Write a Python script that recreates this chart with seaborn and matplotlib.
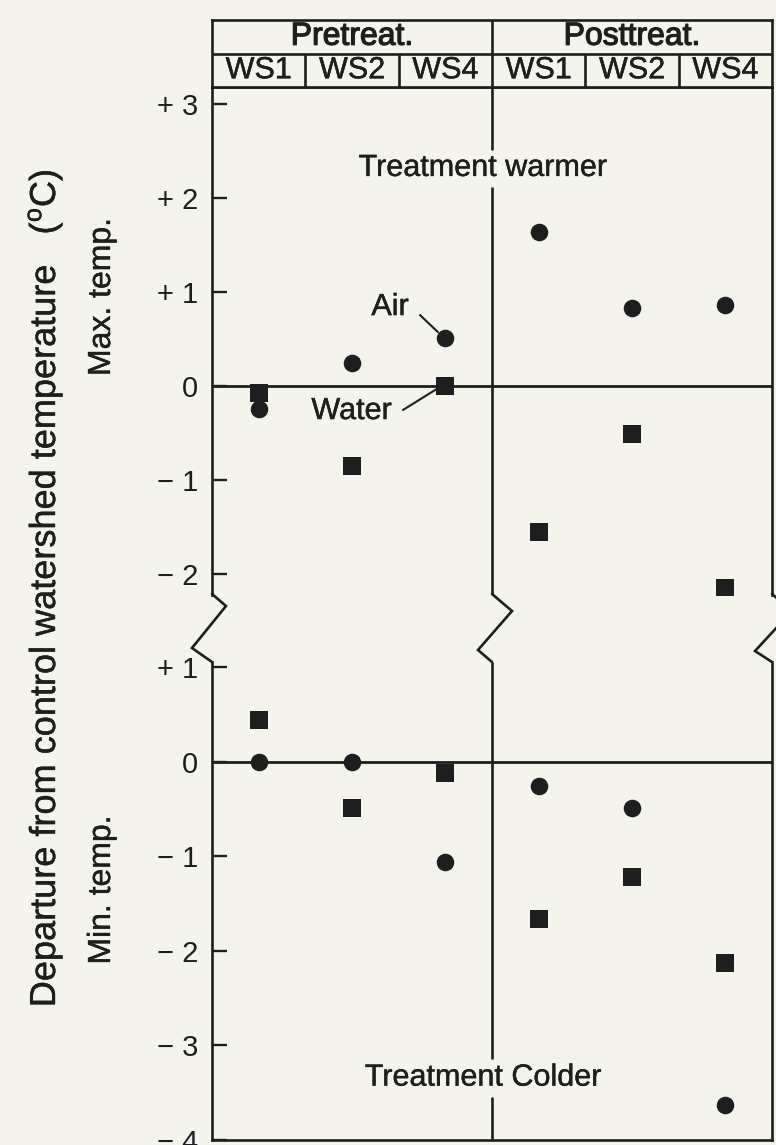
import pandas as pd
import matplotlib
matplotlib.use("Agg")
import matplotlib.pyplot as plt
import matplotlib.patheffects as pe
import seaborn as sns

# columns of the chart: period x watershed
periods = ["Pretreat.", "Posttreat."]
sites = ["WS1", "WS2", "WS4"]
columns = [f"{p} {s}" for p in periods for s in sites]

# departure from control watershed (deg C)
max_air = [-0.24, 0.25, 0.51, 1.64, 0.83, 0.86]
max_water = [-0.07, -0.85, 0.0, -1.55, -0.51, -2.15]
min_air = [0.0, 0.0, -1.06, -0.25, -0.49, -3.63]
min_water = [0.44, -0.49, -0.12, -1.66, -1.22, -2.13]

upper_ticks = [3, 2, 1, 0, -1, -2]
upper_labels = ["+ 3", "+ 2", "+ 1", "0", "\u2212 1", "\u2212 2"]
lower_ticks = [1, 0, -1, -2, -3, -4]
lower_labels = ["+ 1", "0", "\u2212 1", "\u2212 2", "\u2212 3", "\u2212 4"]

ink = "#1e1e1e"
paper = "#f4f4ec"
W, H = 776, 1145
heavy = [pe.withStroke(linewidth=0.3, foreground=ink)]

sns.set_style("white")
plt.rcParams["font.family"] = ["Liberation Sans", "DejaVu Sans"]
plt.rcParams["mathtext.fontset"] = "custom"
plt.rcParams["mathtext.rm"] = "Liberation Sans"
plt.rcParams["text.color"] = ink


def box(x0, y0, x1, y1):
    # pixel box -> figure fraction rect
    return [x0 / W, 1 - y1 / H, (x1 - x0) / W, (y1 - y0) / H]


def draw_panel(ax, air, water):
    df = pd.DataFrame({"column": columns, "Air": air, "Water": water})
    df = df.melt(id_vars="column", var_name="medium", value_name="dep")
    sns.scatterplot(data=df[df["medium"] == "Air"], x="column", y="dep",
                    marker="o", s=160, color=ink, linewidth=0, ax=ax,
                    legend=False, zorder=4)
    sns.scatterplot(data=df[df["medium"] == "Water"], x="column", y="dep",
                    marker="s", s=150, color=ink, linewidth=0, ax=ax,
                    legend=False, zorder=4)
    ax.axhline(0, color=ink, lw=2.0, zorder=2)
    ax.set_xlim(-0.5, 5.5)
    ax.set_xticks([])
    ax.set_xlabel("")
    ax.set_ylabel("")
    ax.set_facecolor(paper)
    for sp in ax.spines.values():
        sp.set_color(ink)
        sp.set_linewidth(1.9)
    ax.tick_params(axis="y", direction="in", length=11, width=1.7,
                   labelsize=21, pad=10, colors=ink, left=True)


fig = plt.figure(figsize=(W / 100, H / 100), dpi=100, facecolor=paper)

ax_top = fig.add_axes(box(212, 87, 772, 595))
ax_bot = fig.add_axes(box(212, 662, 772, 1140))
ax_head = fig.add_axes(box(212, 20, 772, 87))

draw_panel(ax_top, max_air, max_water)
draw_panel(ax_bot, min_air, min_water)

ax_top.set_ylim(-2.223, 3.181)
ax_top.set_yticks(upper_ticks)
ax_top.set_yticklabels(upper_labels)
ax_top.spines["bottom"].set_visible(False)

ax_bot.set_ylim(-4.0, 1.058)
ax_bot.set_yticks(lower_ticks)
ax_bot.set_yticklabels(lower_labels)
ax_bot.spines["top"].set_visible(False)

# divider between pre- and post-treatment, broken for the labels
ax_top.vlines(2.5, 2.51, 3.181, color=ink, lw=1.9)
ax_top.vlines(2.5, -2.223, 2.12, color=ink, lw=1.9)
ax_bot.vlines(2.5, -3.14, 1.058, color=ink, lw=1.9)
ax_bot.vlines(2.5, -4.0, -3.545, color=ink, lw=1.9)

ax_top.text(2.40, 2.32, "Treatment warmer", ha="center", va="center",
            fontsize=22, path_effects=heavy)
ax_bot.text(2.40, -3.34, "Treatment Colder", ha="center", va="center",
            fontsize=22, path_effects=heavy)

# Air / Water callouts
ax_top.text(1.407, 0.84, "Air", ha="center", va="center", fontsize=22,
            path_effects=heavy)
ax_top.plot([1.729, 1.92], [0.755, 0.574], color=ink, lw=1.5)
ax_top.text(0.995, -0.266, "Water", ha="center", va="center", fontsize=22,
            path_effects=heavy)
ax_top.plot([1.546, 1.91], [-0.255, -0.03], color=ink, lw=1.5)

# header table
ax_head.set_xlim(-0.5, 5.5)
ax_head.set_ylim(0, 2)
ax_head.set_xticks([])
ax_head.set_yticks([])
ax_head.set_facecolor(paper)
for sp in ax_head.spines.values():
    sp.set_color(ink)
    sp.set_linewidth(1.9)
ax_head.axhline(1.0, color=ink, lw=1.9)
ax_head.vlines(2.5, 0, 2, color=ink, lw=1.9)
ax_head.vlines([0.5, 1.5, 3.5, 4.5], 0, 1, color=ink, lw=1.9)
for i, p in enumerate(periods):
    ax_head.text(1 + 3 * i, 1.5, p, ha="center", va="center", fontsize=23,
                 path_effects=[pe.withStroke(linewidth=0.9, foreground=ink)])
for i, c in enumerate(columns):
    ax_head.text(i, 0.5, c.split()[-1], ha="center", va="center",
                 fontsize=22, path_effects=heavy)

# axis-break zigzags (figure pixels)
zigzags = [
    [(212, 594), (226, 606), (192, 648), (212, 662)],
    [(492, 594), (512, 611), (478, 650), (492, 662)],
    [(772, 594), (792, 611), (755, 651), (772, 662)],
]
for zz in zigzags:
    xs = [p[0] / W for p in zz]
    ys = [1 - p[1] / H for p in zz]
    fig.add_artist(plt.Line2D(xs, ys, transform=fig.transFigure,
                              color=ink, lw=1.9, solid_joinstyle="miter"))

# axis labels
fig.text(45 / W, 1 - 588 / H,
         "Departure from control watershed temperature   ($^{\\rm o}$C)",
         rotation=90, ha="center", va="center", fontsize=26,
         path_effects=heavy)
fig.text(102 / W, 1 - 297 / H, "Max. temp.", rotation=90,
         ha="center", va="center", fontsize=23, path_effects=heavy)
fig.text(102 / W, 1 - 890 / H, "Min. temp.", rotation=90,
         ha="center", va="center", fontsize=23, path_effects=heavy)

fig.savefig("out.png", dpi=100, facecolor=paper)
